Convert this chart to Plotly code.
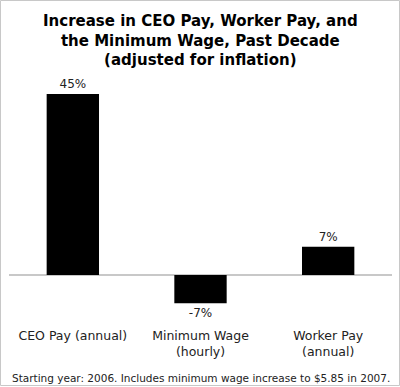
import plotly.graph_objects as go

categories = ["CEO Pay (annual)", "Minimum Wage<br>(hourly)", "Worker Pay<br>(annual)"]
values = [45, -7, 7]
labels = ["45%", "-7%", "7%"]

title_text = "Increase in CEO Pay, Worker Pay, and<br>the Minimum Wage, Past Decade<br>(adjusted for inflation)"
footer_text = "Starting year: 2006. Includes minimum wage increase to $5.85 in 2007."

W, H = 400, 387
px_per = (275 - 94) / 45.0
plot_top, plot_bot = 80, 322
ph = plot_bot - plot_top
ymax = 45 + (94 - plot_top) / px_per
ymin = -(plot_bot - 275) / px_per

fig = go.Figure(go.Bar(
    x=categories, y=values, text=labels, textposition="outside",
    cliponaxis=False, marker=dict(color="black", line=dict(width=0)),
    textfont=dict(family="DejaVu Sans", size=12, color="#222"),
    width=0.41,
))

fig.update_layout(
    width=W, height=H,
    margin=dict(l=9, r=8, t=plot_top, b=H - plot_bot),
    paper_bgcolor="white", plot_bgcolor="white",
    showlegend=False,
    font=dict(family="DejaVu Sans", size=12, color="#222"),
    xaxis=dict(showgrid=False, showline=False, ticks="", tickfont=dict(size=12.5, color="#222"),
               range=[-0.5, 2.5], ticklabelstandoff=4),
    yaxis=dict(showgrid=False, showticklabels=False, zeroline=True, zerolinecolor="#c8c8c8",
               zerolinewidth=1.5, range=[ymin, ymax]),
    annotations=[
        dict(text=title_text, xref="paper", yref="paper", x=0.5, xanchor="center",
             y=1 + (plot_top - 40) / ph, yanchor="middle", showarrow=False,
             font=dict(family="DejaVu Sans", size=15, color="black", weight="bold")),
        dict(text=footer_text, xref="paper", yref="paper", x=0.5, xanchor="center",
             y=-(378 - plot_bot) / ph, yanchor="middle",
             showarrow=False, font=dict(size=10.5, color="#222")),
    ],
    shapes=[dict(type="rect", xref="paper", yref="paper",
                 x0=-8.5 / 383, x1=1 + 7.5 / 383,
                 y0=-(H - plot_bot - 1.5) / ph, y1=1 + (plot_top - 0.5) / ph,
                 line=dict(color="#c8c8c8", width=1))],
)

fig.write_html("out.html", config={"displayModeBar": False},
               post_script="document.body.style.margin='0';document.body.style.padding='0';")
